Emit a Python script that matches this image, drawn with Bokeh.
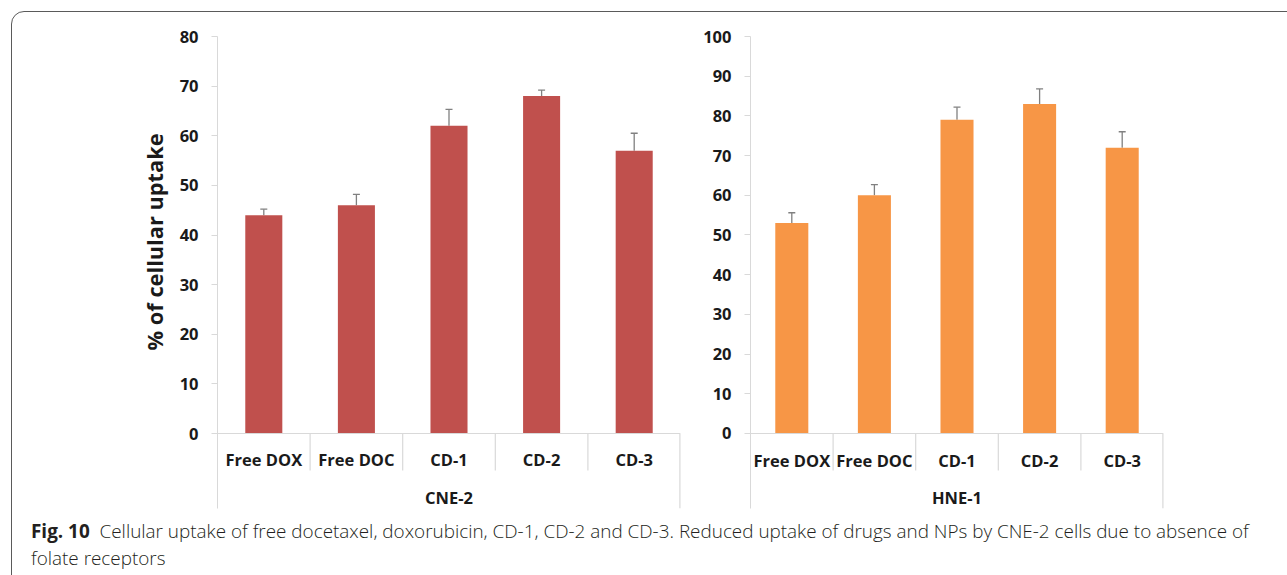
from bokeh.plotting import figure
from bokeh.models import (Range1d, FactorRange, FixedTicker, Whisker, TeeHead,
                          ColumnDataSource, Div, Title)
from bokeh.layouts import row, column
from bokeh.core.properties import value
from bokeh.embed import file_html
from bokeh.resources import INLINE

# Treatments shown in both cell lines
categories = ["Free DOX", "Free DOC", "CD-1", "CD-2", "CD-3"]

# CNE-2 cells: mean uptake (%) and upper error
cne2_uptake = [44, 46, 62, 68, 57]
cne2_error = [1.2, 2.2, 3.3, 1.2, 3.5]

# HNE-1 cells: mean uptake (%) and upper error
hne1_uptake = [53, 60, 79, 83, 72]
hne1_error = [2.6, 2.7, 3.2, 3.8, 4.0]

cne2_ticks = [0, 10, 20, 30, 40, 50, 60, 70, 80]
hne1_ticks = [0, 10, 20, 30, 40, 50, 60, 70, 80, 90, 100]

y_title = "% of cellular uptake"
caption_bold = "Fig. 10"
caption_text = ("Cellular uptake of free docetaxel, doxorubicin, CD-1, CD-2 and CD-3. "
                "Reduced uptake of drugs and NPs by CNE-2 cells due to absence of")
caption_tail = "folate receptors"

FONT = "Open Sans"
AXIS_GRAY = "#d9d9d9"
TEXT = "#1a1a1a"


def panel(group, vals, errs, ticks, color, width, height, b_left, b_right, b_top, b_bottom,
          y_start, sep_depth, group_y, label_standoff):
    src = ColumnDataSource(dict(
        cat=categories,
        val=vals,
        upper=[v + e for v, e in zip(vals, errs)],
    ))
    p = figure(x_range=FactorRange(*categories), y_range=Range1d(y_start, ticks[-1]),
               width=width, height=height, output_backend="svg", toolbar_location=None,
               min_border_left=b_left, min_border_right=b_right,
               min_border_top=b_top, min_border_bottom=b_bottom)
    p.outline_line_color = None
    p.xgrid.visible = False
    p.ygrid.visible = False
    p.background_fill_color = "white"
    p.border_fill_color = "white"

    p.vbar(x="cat", top="val", bottom=0, width=0.4, source=src, fill_color=color, line_color=None)
    p.add_layout(Whisker(source=src, base="cat", lower="val", upper="upper", dimension="height",
                         line_color="#808080", line_width=1.3,
                         upper_head=TeeHead(size=7, line_color="#808080", line_width=1.3),
                         lower_head=None))

    # category separators below the axis line
    inner = [(c, 0.5) for c in categories[:-1]]
    p.segment(x0=inner, y0=[0] * len(inner), x1=inner, y1=[sep_depth] * len(inner),
              line_color=AXIS_GRAY, line_width=1.2)
    edge = [(categories[-1], 0.5)]
    p.segment(x0=edge, y0=[0], x1=edge, y1=[y_start], line_color=AXIS_GRAY, line_width=2.4)

    # group label under the categories
    p.text(x=[categories[len(categories) // 2]], y=[group_y], text=[group],
           text_align="center", text_baseline="middle", text_font=value(FONT),
           text_font_style="bold", text_font_size="16.5px", text_color=TEXT)

    ya = p.yaxis[0]
    ya.ticker = FixedTicker(ticks=ticks)
    ya.axis_line_color = AXIS_GRAY
    ya.major_tick_line_color = AXIS_GRAY
    ya.major_tick_out = 6
    ya.major_tick_in = 0
    ya.minor_tick_line_color = None
    ya.major_label_text_font = FONT
    ya.major_label_text_font_style = "bold"
    ya.major_label_text_font_size = "16.5px"
    ya.major_label_text_color = TEXT
    ya.major_label_standoff = 13

    xa = p.xaxis[0]
    xa.fixed_location = 0
    xa.axis_line_color = AXIS_GRAY
    xa.major_tick_line_color = None
    xa.minor_tick_line_color = None
    xa.major_label_text_font = FONT
    xa.major_label_text_font_style = "bold"
    xa.major_label_text_font_size = "16.5px"
    xa.major_label_text_color = TEXT
    xa.major_label_standoff = label_standoff
    return p


p1 = panel("CNE-2", cne2_uptake, cne2_error, cne2_ticks, "#C0504D",
           width=690, height=515, b_left=217, b_right=10, b_top=36, b_bottom=7,
           y_start=-15.11, sep_depth=-7.46, group_y=-12.9, label_standoff=8)
p2 = panel("HNE-1", hne1_uptake, hne1_error, hne1_ticks, "#F79646",
           width=595, height=515, b_left=60, b_right=122, b_top=33, b_bottom=5,
           y_start=-18.9, sep_depth=-9.35, group_y=-16.1, label_standoff=10)

# y-axis title on the left side, lifted to sit level with the 0-80 value span
p1.add_layout(Title(text=y_title, align="left", offset=158, standoff=15,
                    text_font=FONT, text_font_style="bold", text_font_size="21.8px",
                    text_color=TEXT), "left")

caption = Div(width=1280, height=58, text=(
    '<div style="position:fixed;left:11px;top:11px;right:-40px;bottom:-40px;'
    'border:1.6px solid #5a5a5a;border-radius:13px;pointer-events:none"></div>'
    '<div style="margin-left:26px;margin-top:-2px;font-family:\'Open Sans\';font-size:18.9px;'
    'font-weight:300;line-height:26.7px;color:#231f20;white-space:nowrap">'
    f'<b style="font-weight:700">{caption_bold}</b>&nbsp; {caption_text}<br>{caption_tail}</div>'))

layout = column(row(p1, p2), caption)
open("out.html", "w").write(file_html(layout, INLINE))
